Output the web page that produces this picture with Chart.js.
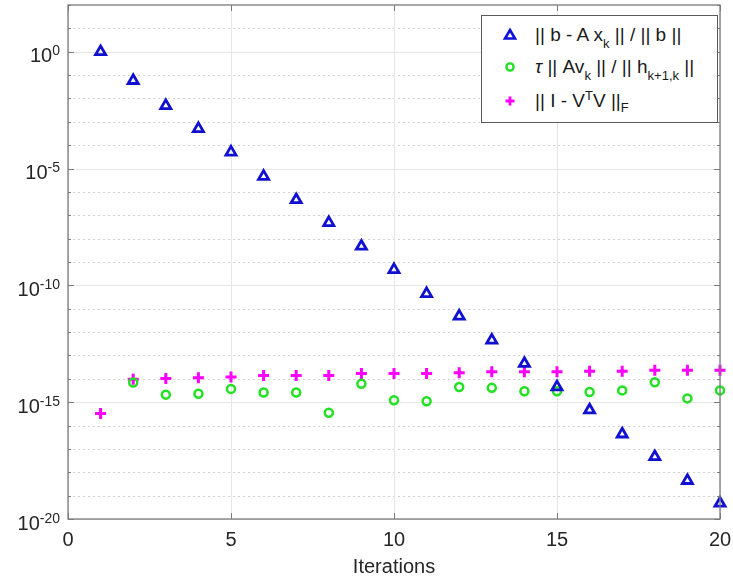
<!DOCTYPE html>
<html>
<head>
<meta charset="utf-8">
<script src="https://cdn.jsdelivr.net/npm/chart.js@4.4.1/dist/chart.umd.min.js"></script>
<style>
  html, body { margin: 0; padding: 0; background: #fff; }
  #wrap { position: relative; width: 733px; height: 584px; }
  #legend {
    position: absolute; left: 481px; top: 15px; width: 235px; height: 106px;
    border: 1px solid #5a5a5a; background: #fff;
    font-family: "Liberation Sans", Arial, sans-serif; font-size: 19px; color: #1a1a1a;
  }
  #legend .row { position: absolute; left: 53px; height: 20px; line-height: 20px; white-space: nowrap; }
  #legend .sub, #legend .sup { font-size: 13px; position: relative; vertical-align: baseline; }
  #legend .sub { top: 7px; }
  #legend .sup { top: -7px; }
  #legend svg { position: absolute; left: 20px; }
</style>
</head>
<body>
<div id="wrap">
  <canvas id="chart" width="733" height="584"></canvas>
  <div id="legend">
    <svg style="top:11px" width="16" height="16"><polygon points="8,3 13,11.5 3,11.5" fill="none" stroke="#1010d8" stroke-width="2.6"/></svg>
    <div class="row" style="top:9px">|| b - A x<span class="sub">k</span> || / || b ||</div>
    <svg style="top:43px" width="16" height="16"><circle cx="8" cy="8" r="3.6" fill="none" stroke="#22e022" stroke-width="2.4"/></svg>
    <div class="row" style="top:41px"><i>τ</i> || Av<span class="sub">k</span> || / || h<span class="sub">k+1,k</span> ||</div>
    <svg style="top:77px" width="16" height="16"><path d="M8 3.5 V12.5 M3.5 8 H12.5" stroke="#ff00ff" stroke-width="2.8"/></svg>
    <div class="row" style="top:75px">|| I - V<span class="sup">T</span>V ||<span class="sub" style="top:5px">F</span></div>
  </div>
</div>
<script>
// iterations 1..20
const iterations = [1, 2, 3, 4, 5, 6, 7, 8, 9, 10, 11, 12, 13, 14, 15, 16, 17, 18, 19, 20];

// ||b - A x_k|| / ||b||
const residual = [1.0, 5.8e-2, 4.9e-3, 5.1e-4, 5.0e-5, 4.6e-6, 4.6e-7, 4.8e-8, 4.7e-9, 4.7e-10,
  4.4e-11, 4.8e-12, 4.5e-13, 4.5e-14, 4.5e-15, 4.6e-16, 4.3e-17, 4.6e-18, 4.4e-19, 4.7e-20];

// tau ||A v_k|| / ||h_{k+1,k}||  (nothing at k = 1)
const tauRatio = [null, 6.9e-15, 2.1e-15, 2.3e-15, 3.7e-15, 2.6e-15, 2.6e-15, 3.5e-16, 6.2e-15, 1.2e-15,
  1.1e-15, 4.5e-15, 4.1e-15, 2.95e-15, 2.95e-15, 2.75e-15, 3.2e-15, 7.1e-15, 1.45e-15, 3.2e-15];

// ||I - V^T V||_F
const orthoLoss = [3.3e-16, 9.5e-15, 1.02e-14, 1.1e-14, 1.2e-14, 1.38e-14, 1.38e-14, 1.38e-14, 1.7e-14, 1.7e-14,
  1.7e-14, 1.8e-14, 2.0e-14, 2.0e-14, 2.0e-14, 2.1e-14, 2.1e-14, 2.3e-14, 2.3e-14, 2.3e-14];

const xTicks = [0, 5, 10, 15, 20];
const yTickExps = [0, -5, -10, -15, -20];
const yMinExp = -20, yMaxExp = 2;

const FONT = '"Liberation Sans", Arial, sans-serif';
const AXIS_COL = '#7a7a7a';
const TEXT_COL = '#262626';

const pts = vals => iterations.map((k, i) => ({ x: k, y: vals[i] }));

// MATLAB-like axes: grid, box, inward ticks, 10^n labels
const matlabAxes = {
  id: 'matlabAxes',
  beforeDatasetsDraw(chart) {
    const { ctx, chartArea: a, scales: { x, y } } = chart;
    ctx.save();
    ctx.lineWidth = 1;
    // minor decades, dotted
    ctx.strokeStyle = '#d2d2d2';
    ctx.setLineDash([2, 3]);
    for (let e = yMinExp; e <= yMaxExp; e++) {
      if (yTickExps.includes(e) || e === yMaxExp) continue;
      const py = Math.round(y.getPixelForValue(Math.pow(10, e))) + 0.5;
      ctx.beginPath(); ctx.moveTo(a.left, py); ctx.lineTo(a.right, py); ctx.stroke();
    }
    ctx.setLineDash([]);
    ctx.strokeStyle = '#e6e6e6';
    yTickExps.forEach(e => {
      const py = Math.round(y.getPixelForValue(Math.pow(10, e))) + 0.5;
      ctx.beginPath(); ctx.moveTo(a.left, py); ctx.lineTo(a.right, py); ctx.stroke();
    });
    xTicks.forEach(v => {
      const px = Math.round(x.getPixelForValue(v)) + 0.5;
      ctx.beginPath(); ctx.moveTo(px, a.top); ctx.lineTo(px, a.bottom); ctx.stroke();
    });
    ctx.restore();
  },
  afterDatasetsDraw(chart) {
    const { ctx, chartArea: a, scales: { x, y } } = chart;
    ctx.save();
    ctx.strokeStyle = AXIS_COL;
    ctx.lineWidth = 1.3;
    ctx.strokeRect(a.left, a.top, a.right - a.left, a.bottom - a.top);
    ctx.lineWidth = 1;
    ctx.beginPath();
    for (let e = yMinExp; e <= yMaxExp; e++) {
      const py = Math.round(y.getPixelForValue(Math.pow(10, e))) + 0.5;
      const len = yTickExps.includes(e) ? 6 : 3;
      ctx.moveTo(a.left, py); ctx.lineTo(a.left + len, py);
      ctx.moveTo(a.right, py); ctx.lineTo(a.right - len, py);
    }
    xTicks.forEach(v => {
      const px = Math.round(x.getPixelForValue(v)) + 0.5;
      ctx.moveTo(px, a.bottom); ctx.lineTo(px, a.bottom - 6);
      ctx.moveTo(px, a.top); ctx.lineTo(px, a.top + 6);
    });
    ctx.stroke();

    // y labels: 10 with superscript exponent
    ctx.fillStyle = TEXT_COL;
    ctx.textAlign = 'left';
    ctx.textBaseline = 'alphabetic';
    const right = a.left - 8;
    yTickExps.forEach(e => {
      const py = y.getPixelForValue(Math.pow(10, e));
      const exp = String(e);
      ctx.font = '14px ' + FONT;
      const ew = ctx.measureText(exp).width;
      ctx.font = '20px ' + FONT;
      const bw = ctx.measureText('10').width;
      ctx.fillText('10', right - ew - bw, py + 10.5);
      ctx.font = '14px ' + FONT;
      ctx.fillText(exp, right - ew, py + 3.5);
    });
    ctx.restore();
  }
};

new Chart(document.getElementById('chart'), {
  type: 'scatter',
  data: {
    datasets: [
      {
        label: '||b - A x_k|| / ||b||',
        data: pts(residual),
        pointStyle: 'triangle',
        pointRadius: 5.8,
        pointBorderWidth: 2.8,
        pointBorderColor: '#1010d0',
        pointBackgroundColor: 'rgba(0,0,0,0)',
        clip: false
      },
      {
        label: 'tau ||A v_k|| / ||h_{k+1,k}||',
        data: pts(tauRatio),
        pointStyle: 'circle',
        pointRadius: 4,
        pointBorderWidth: 2.5,
        pointBorderColor: '#22e022',
        pointBackgroundColor: 'rgba(0,0,0,0)',
        clip: false
      },
      {
        label: '||I - V^T V||_F',
        data: pts(orthoLoss),
        pointStyle: 'cross',
        pointRadius: 5.5,
        pointBorderWidth: 3,
        pointBorderColor: '#ff00ff',
        pointBackgroundColor: '#ff00ff',
        clip: false
      }
    ]
  },
  options: {
    responsive: false,
    animation: false,
    layout: { autoPadding: false, padding: { top: 5, right: 13, left: 0, bottom: 0 } },
    plugins: { legend: { display: false }, tooltip: { enabled: false } },
    scales: {
      x: {
        type: 'linear', min: 0, max: 20,
        ticks: { stepSize: 5, padding: 9, color: TEXT_COL, font: { family: FONT, size: 20 } },
        grid: { display: false, drawTicks: false },
        border: { display: false },
        title: { display: true, text: 'Iterations', color: TEXT_COL, font: { family: FONT, size: 20 }, padding: { top: 0, bottom: 5 } },
        afterFit: s => { s.height = 65; s.paddingLeft = 0; s.paddingRight = 0; }
      },
      y: {
        type: 'logarithmic', min: 1e-20, max: 1e2,
        ticks: { display: false },
        grid: { display: false },
        border: { display: false },
        afterFit: s => { s.width = 68; s.paddingTop = 0; s.paddingBottom = 0; }
      }
    }
  },
  plugins: [matlabAxes]
});
</script>
</body>
</html>
